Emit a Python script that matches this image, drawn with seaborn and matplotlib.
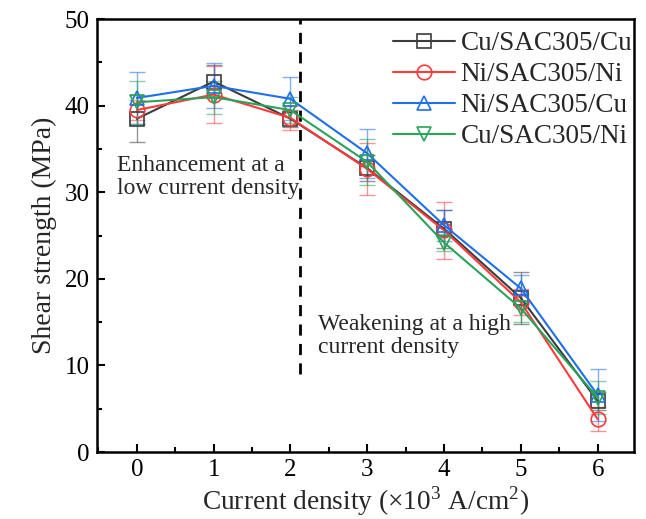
import matplotlib
matplotlib.use("Agg")
import matplotlib.pyplot as plt
import seaborn as sns
import pandas as pd
from matplotlib.ticker import MultipleLocator

sns.set_theme(style="ticks")
plt.rcParams['font.family'] = ['Liberation Serif', 'DejaVu Serif']
plt.rcParams['mathtext.fontset'] = 'custom'
plt.rcParams['mathtext.rm'] = 'Liberation Serif'

current = [0, 1, 2, 3, 4, 5, 6]
series_names = ["Cu/SAC305/Cu", "Ni/SAC305/Ni", "Ni/SAC305/Cu", "Cu/SAC305/Ni"]
cu_cu = [38.5, 42.8, 38.5, 32.8, 25.8, 17.8, 5.9]
ni_ni = [39.5, 41.3, 38.6, 32.7, 25.6, 17.3, 3.8]
ni_cu = [40.9, 42.3, 40.8, 34.5, 26.2, 18.9, 6.6]
cu_ni = [40.4, 41.0, 39.5, 33.5, 24.2, 16.6, 6.3]
err_cu_cu = [2.7, 1.9, 1.0, 1.5, 2.2, 3.0, 1.0]
err_ni_ni = [1.2, 3.3, 1.4, 3.0, 3.3, 1.5, 1.4]
err_ni_cu = [3.0, 2.6, 2.5, 2.8, 1.8, 1.5, 3.0]
err_cu_ni = [2.5, 1.9, 1.5, 2.7, 1.0, 1.6, 1.9]

values = [cu_cu, ni_ni, ni_cu, cu_ni]
errors = [err_cu_cu, err_ni_ni, err_ni_cu, err_cu_ni]
colors = ["#3c3c3c", "#ff3a3a", "#1f6fe8", "#2aa35a"]
markers = ["s", "o", "^", "v"]

fig = plt.figure(figsize=(6.46, 5.19), dpi=100)
ax = fig.add_axes([0.150, 0.129, 0.831, 0.834])

for name, vals, errs, c, m in zip(series_names, values, errors, colors, markers):
    df = pd.DataFrame({"x": current, "y": vals})
    ax.errorbar(current, vals, yerr=errs, fmt="none", ecolor=c, alpha=0.55,
                elinewidth=1.0, capsize=6, capthick=1.0, zorder=2)
    sns.lineplot(data=df, x="x", y="y", ax=ax, color=c, marker=m, markersize=10.5,
                 markerfacecolor="none", markeredgecolor=c, markeredgewidth=1.2,
                 linewidth=1.5, label=name, zorder=3)

ax.axvline(2.12, ymin=0.18, ymax=1.0, color="black", linestyle=(0, (4, 3)), linewidth=2)

ax.text(-0.26, 31.8, "Enhancement at a\nlow current density", fontsize=17,
        ha="left", va="center", linespacing=1.1)
ax.text(2.36, 13.4, "Weakening at a high\ncurrent density", fontsize=17,
        ha="left", va="center", linespacing=1.1)

ax.set_xlim(-0.52, 6.47)
ax.set_ylim(0, 50)
ax.xaxis.set_major_locator(MultipleLocator(1))
ax.xaxis.set_minor_locator(MultipleLocator(0.5))
ax.yaxis.set_major_locator(MultipleLocator(10))
ax.yaxis.set_minor_locator(MultipleLocator(5))
ax.tick_params(which="both", direction="in", top=False, right=False, width=1.5,
               labelsize=18, colors="black")
ax.tick_params(which="major", length=6, pad=5)
ax.tick_params(which="minor", length=3.5)
for sp in ax.spines.values():
    sp.set_visible(True)
    sp.set_linewidth(1.8)
    sp.set_color("black")

ax.set_xlabel("Current density (×10$^3$ A/cm$^2$)", fontsize=19.7, labelpad=2)
ax.set_ylabel("Shear strength (MPa)", fontsize=20, labelpad=6)

leg = ax.legend(loc="upper right", bbox_to_anchor=(1.0, 0.975), frameon=False,
                fontsize=19.5, handlelength=2.3, handletextpad=0.2,
                labelspacing=0.22, borderaxespad=0.0, borderpad=0.05)

fig.savefig("out.png", dpi=100)
